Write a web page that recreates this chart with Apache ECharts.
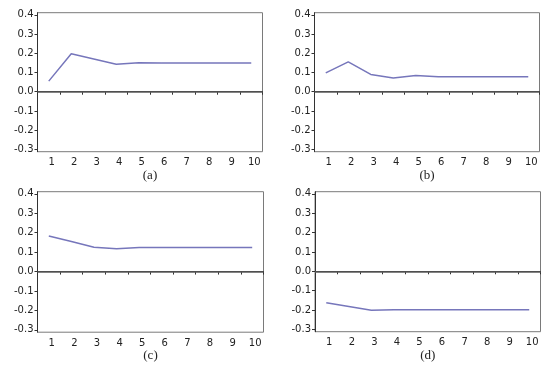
<!DOCTYPE html>
<html>
<head>
<meta charset="utf-8">
<script src="https://cdn.jsdelivr.net/npm/echarts@6/dist/echarts.min.js"></script>
<style>
html,body{margin:0;padding:0;background:#fff;}
#chart{width:550px;height:367px;}
</style>
</head>
<body>
<div id="chart"></div>
<script>
// ---- data ----
var periods = ['1','2','3','4','5','6','7','8','9','10'];
var yTicks = [-0.3, -0.2, -0.1, 0.0, 0.1, 0.2, 0.3, 0.4];
var captions = ['(a)', '(b)', '(c)', '(d)'];
var seriesA = [0.055, 0.197, 0.170, 0.143, 0.151, 0.150, 0.150, 0.150, 0.150, 0.150];
var seriesB = [0.098, 0.155, 0.090, 0.071, 0.084, 0.078, 0.078, 0.078, 0.078, 0.078];
var seriesC = [0.183, 0.155, 0.125, 0.118, 0.124, 0.124, 0.124, 0.124, 0.124, 0.124];
var seriesD = [-0.163, -0.182, -0.201, -0.199, -0.198, -0.198, -0.198, -0.198, -0.198, -0.198];
var allSeries = [seriesA, seriesB, seriesC, seriesD];

// ---- layout ----
var grids = [
  {left: 37.5, top: 12.7, width: 225, height: 139},
  {left: 314.5, top: 12.7, width: 225, height: 139},
  {left: 37.5, top: 191.7, width: 226, height: 140.5},
  {left: 315, top: 191.7, width: 225.5, height: 140}
];
var lineColor = '#7676bb';
var labelFont = 'DejaVu Sans';

var option = {
  animation: false,
  backgroundColor: '#ffffff',
  grid: grids.map(function (g) {
    return {left: g.left, top: g.top, width: g.width, height: g.height,
      show: true, borderColor: '#7a7a7a', borderWidth: 1, backgroundColor: 'transparent'};
  }),
  xAxis: grids.map(function (g, i) {
    return {
      type: 'category', gridIndex: i, data: periods, boundaryGap: true,
      name: captions[i], nameLocation: 'middle', nameGap: 17,
      nameTextStyle: {fontFamily: 'Liberation Serif', fontSize: 13, color: '#222'},
      axisLine: {show: true, lineStyle: {color: '#333', width: 1}},
      axisTick: {show: true, length: 3, interval: 0, lineStyle: {color: '#333'}},
      axisLabel: {interval: 0, fontFamily: labelFont, fontSize: 10, color: '#222', margin: 6, padding: [0, 0, 0, 6]},
      splitLine: {show: false}
    };
  }),
  yAxis: grids.map(function (g, i) {
    return {
      type: 'value', gridIndex: i, min: -0.312, max: 0.411,
      axisLine: {show: true, lineStyle: {color: '#333', width: 1}},
      axisTick: {show: true, length: 3, customValues: yTicks, lineStyle: {color: '#333'}},
      axisLabel: {customValues: yTicks, fontFamily: labelFont, fontSize: 10, color: '#222', margin: 4,
        formatter: function (v) { return (Math.abs(v) < 1e-9 ? 0 : v).toFixed(1); }},
      splitLine: {show: false}
    };
  }),
  series: allSeries.map(function (d, i) {
    return {
      type: 'line', xAxisIndex: i, yAxisIndex: i, data: d,
      symbol: 'none', smooth: false,
      lineStyle: {color: lineColor, width: 1.5},
      markLine: {
        silent: true, symbol: 'none', label: {show: false},
        lineStyle: {color: '#5a5a5a', width: 1.5, type: 'solid'},
        data: [{yAxis: 0}]
      }
    };
  })
};

var chart = echarts.init(document.getElementById('chart'), null, {renderer: 'canvas'});
chart.setOption(option);
</script>
</body>
</html>
